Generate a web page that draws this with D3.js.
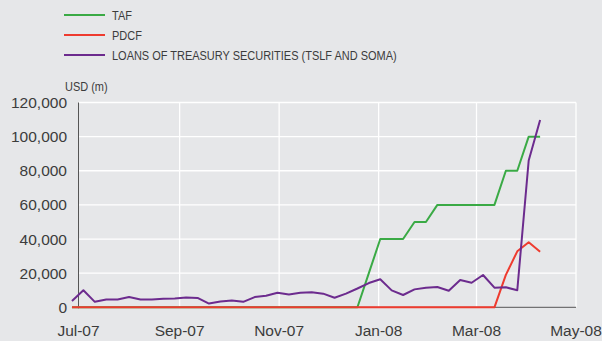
<!DOCTYPE html>
<html>
<head>
<meta charset="utf-8">
<script src="https://cdn.jsdelivr.net/npm/d3@7"></script>
<style>
  body { margin: 0; background: #e6e7e9; }
  svg { display: block; }
  text { font-family: "Liberation Sans", Arial, sans-serif; fill: #3c3c3c; }
</style>
</head>
<body>
<svg id="chart" width="602" height="341"></svg>
<script>
// weekly Wednesday dates, first one 27 Jun 2007
const firstWeek = "2007-06-27";
const weekCount = 42;

const seriesNames = ["TAF", "PDCF", "LOANS OF TREASURY SECURITIES (TSLF AND SOMA)"];
const seriesColors = ["#3aaa45", "#ee3b2f", "#6c2b8e"];

// USD millions, one value per week
const tafValues = [
  0, 0, 0, 0, 0, 0, 0, 0, 0, 0,
  0, 0, 0, 0, 0, 0, 0, 0, 0, 0,
  0, 0, 0, 0, 0, 0, 20000, 40000, 40000, 40000,
  50000, 50000, 60000, 60000, 60000, 60000, 60000, 60000, 80000, 80000,
  100000, 100000
];
const pdcfValues = [
  0, 0, 0, 0, 0, 0, 0, 0, 0, 0,
  0, 0, 0, 0, 0, 0, 0, 0, 0, 0,
  0, 0, 0, 0, 0, 0, 0, 0, 0, 0,
  0, 0, 0, 0, 0, 0, 0, 0, 19000, 32800,
  38100, 32600
];
const loanValues = [
  3700, 10000, 3200, 4600, 4600, 6000, 4600, 4600, 5000, 5200,
  5800, 5500, 2200, 3400, 4000, 3200, 6000, 6800, 8500, 7500,
  8500, 8800, 8000, 5600, 8000, 11000, 14200, 16400, 9900, 7200,
  10500, 11500, 11900, 9700, 16000, 14400, 18900, 11500, 11700, 10000,
  86000, 109800
];

const yTicks = [0, 20000, 40000, 60000, 80000, 100000, 120000];
const xTicks = ["2007-07-01", "2007-09-01", "2007-11-01", "2008-01-01", "2008-03-01", "2008-05-01"];

const parse = d3.timeParse("%Y-%m-%d");
const start = parse(firstWeek);
const weeks = d3.range(weekCount).map(i => d3.timeDay.offset(start, i * 7));

const svg = d3.select("#chart");

const x = d3.scaleTime()
    .domain([parse(xTicks[0]), parse(xTicks[xTicks.length - 1])])
    .range([78.5, 576]);
const y = d3.scaleLinear()
    .domain([0, 120000])
    .range([307.3, 102.5]);

// gridlines
svg.append("g").selectAll("line")
    .data(yTicks.slice(1))
    .enter().append("line")
    .attr("x1", x.range()[0]).attr("x2", x.range()[1])
    .attr("y1", d => y(d)).attr("y2", d => y(d))
    .attr("stroke", "#ffffff").attr("stroke-width", 1.3);
svg.append("g").selectAll("line")
    .data(xTicks.slice(1).map(parse))
    .enter().append("line")
    .attr("x1", d => x(d)).attr("x2", d => x(d))
    .attr("y1", y(120000)).attr("y2", y(0))
    .attr("stroke", "#ffffff").attr("stroke-width", 1.3);

// axis lines
svg.append("line")
    .attr("x1", x.range()[0]).attr("x2", x.range()[0])
    .attr("y1", y(120000)).attr("y2", y(0) + 1)
    .attr("stroke", "#555").attr("stroke-width", 1);
svg.append("line")
    .attr("x1", x.range()[0]).attr("x2", x.range()[1])
    .attr("y1", y(0)).attr("y2", y(0))
    .attr("stroke", "#555").attr("stroke-width", 1);

// tick labels
svg.append("g").selectAll("text")
    .data(yTicks)
    .enter().append("text")
    .attr("x", 67)
    .attr("y", d => y(d))
    .attr("dy", "0.36em")
    .attr("text-anchor", "end")
    .style("font-size", "15.5px")
    .text(d => d3.format(",")(d));
svg.append("g").selectAll("text")
    .data(xTicks.map(parse))
    .enter().append("text")
    .attr("x", d => x(d))
    .attr("y", 336)
    .attr("text-anchor", "middle")
    .style("font-size", "15.5px")
    .text(d => d3.timeFormat("%b-%y")(d));

// narrow face is not installed, so squeeze the small labels a bit
const squeeze = 0.845;

svg.append("text")
    .attr("transform", `translate(65, 91) scale(${squeeze}, 1)`)
    .style("font-size", "13px")
    .text("USD (m)");

// series
const line = d3.line()
    .x((d, i) => x(weeks[i]))
    .y(d => y(d));
[tafValues, pdcfValues, loanValues].forEach((vals, k) => {
    svg.append("path")
        .datum(vals)
        .attr("fill", "none")
        .attr("stroke", seriesColors[k])
        .attr("stroke-width", 2)
        .attr("stroke-linejoin", "round")
        .attr("d", line);
});

// legend
const legend = svg.append("g").selectAll("g")
    .data(seriesNames)
    .enter().append("g")
    .attr("transform", (d, i) => `translate(64, ${15 + i * 20})`);
legend.append("line")
    .attr("x1", 0).attr("x2", 41)
    .attr("stroke", (d, i) => seriesColors[i])
    .attr("stroke-width", 2);
legend.append("text")
    .attr("transform", `translate(48, 0) scale(${squeeze}, 1)`)
    .attr("dy", "0.36em")
    .style("font-size", "13px")
    .text(d => d);
</script>
</body>
</html>
